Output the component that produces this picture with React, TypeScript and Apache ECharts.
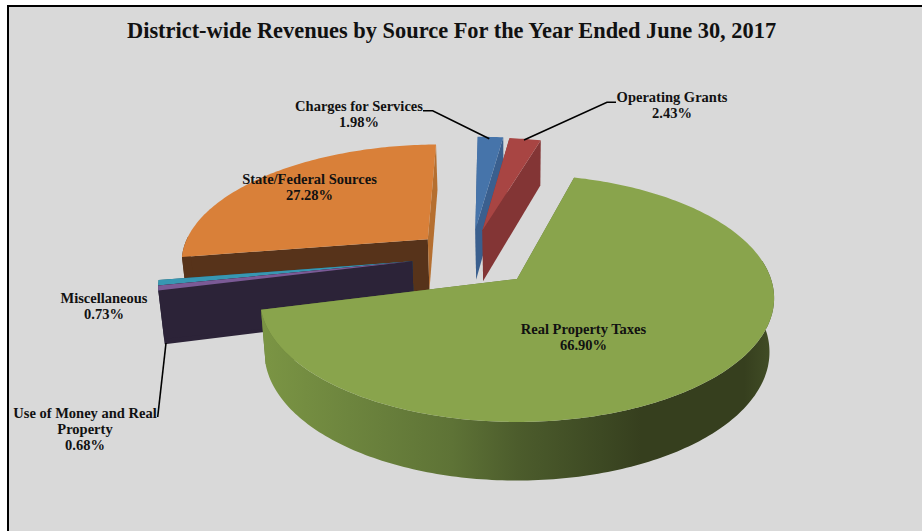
import React, { useEffect, useRef } from "react";
import * as echarts from "echarts";

const titleText = "District-wide Revenues by Source For the Year Ended June 30, 2017";
const sliceNames = [
  "Real Property Taxes",
  "Use of Money and Real Property",
  "Miscellaneous",
  "State/Federal Sources",
  "Charges for Services",
  "Operating Grants",
];
const sliceValues = [66.9, 0.68, 0.73, 27.28, 1.98, 2.43];

// Projection of the pie plane (perspective ellipse)
const CX = 517, CY = 279, A = 254, B = 120.8, K = 0.155, SHRINK = 0.982;
const DEPTH = 53, DEPTH_SLOPE = 36;
const START_ANGLE = 15;
const WIDTH = 922, HEIGHT = 531;

type Look = {
  top: string; wall: any; startFace: string; endFace: string;
  ox: number; oy: number; label: [number, number]; leader?: number[][]; lines?: string[];
};

const greenWall = {
  type: "linear", x: 262, y: 0, x2: 775, y2: 0, global: true,
  colorStops: [
    { offset: 0, color: "#7b9544" },
    { offset: 0.17, color: "#6d853e" },
    { offset: 0.37, color: "#5e7336" },
    { offset: 0.5, color: "#4c5c2c" },
    { offset: 0.66, color: "#3d4923" },
    { offset: 0.74, color: "#363f1e" },
    { offset: 0.94, color: "#363f1e" },
    { offset: 1, color: "#434f27" },
  ],
};

const looks: Record<string, Look> = {
  "Real Property Taxes": {
    top: "#89a44c", wall: greenWall, startFace: "#5e7336", endFace: "#5e7336",
    ox: 0, oy: 0, label: [583.5, 337],
  },
  "Use of Money and Real Property": {
    top: "#7b5a96", wall: "#2c2338", startFace: "#2c2338", endFace: "#2c2338",
    ox: -0.422, oy: 0.15, label: [85, 429],
    lines: ["Use of Money and Real", "Property"],
    leader: [[157.7, 417], [166, 343]],
  },
  Miscellaneous: {
    top: "#3797b2", wall: "#1f5564", startFace: "#1f5564", endFace: "#1f5564",
    ox: -0.422, oy: 0.15, label: [104, 306],
  },
  "State/Federal Sources": {
    top: "#d98039", wall: "#57331a", startFace: "#57331a", endFace: "#b56f30",
    ox: -0.37, oy: 0.346, label: [309.5, 187],
  },
  "Charges for Services": {
    top: "#4674aa", wall: "#3a5f8e", startFace: "#3a5f8e", endFace: "#3a5f8e",
    ox: -0.175, oy: 0.44, label: [359, 114],
    leader: [[423, 110.7], [432.7, 110.7], [489.3, 138.7]],
  },
  "Operating Grants": {
    top: "#a84543", wall: "#833535", startFace: "#833535", endFace: "#833535",
    ox: -0.145, oy: 0.43, label: [672, 105],
    leader: [[616, 102.3], [607, 102.3], [524, 140]],
  },
};

const paintOrder = [
  "State/Federal Sources",
  "Miscellaneous",
  "Use of Money and Real Property",
  "Charges for Services",
  "Operating Grants",
  "Real Property Taxes",
];

const total = sliceValues.reduce((s, v) => s + v, 0);

function sliceAngles(name: string): [number, number] {
  const idx = sliceNames.indexOf(name);
  let acc = START_ANGLE;
  for (let i = 0; i < idx; i++) acc += (sliceValues[i] / total) * 360;
  return [acc, acc + (sliceValues[idx] / total) * 360];
}

function topPoint(X: number, Y: number): [number, number, number] {
  const w = 1 + K * Y;
  return [CX + (A * X) / w, CY - (B * Y) / w, w];
}
function lowPoint(X: number, Y: number): [number, number] {
  const [x, y, w] = topPoint(X, Y);
  return [CX + (x - CX) * SHRINK, y + DEPTH - DEPTH_SLOPE * (w - 1)];
}

function renderSlice(params: any, api: any) {
  const name = paintOrder[params.dataIndex];
  const look = looks[name];
  const [a0, a1] = sliceAngles(name);
  const rim: [number, number][] = [];
  const nearRim: [number, number][] = [];
  const steps = Math.max(2, Math.ceil(a1 - a0));
  for (let i = 0; i <= steps; i++) {
    const deg = a0 + ((a1 - a0) * i) / steps;
    const t = (deg * Math.PI) / 180;
    const p: [number, number] = [look.ox + Math.sin(t), look.oy + Math.cos(t)];
    rim.push(p);
    const d = deg % 360;
    if (d >= 80 && d <= 272) nearRim.push(p);
  }
  const apex: [number, number] = [look.ox, look.oy];
  const T = (p: [number, number]) => {
    const q = topPoint(p[0], p[1]);
    return [q[0], q[1]];
  };
  const L = (p: [number, number]) => lowPoint(p[0], p[1]);
  const poly = (points: number[][], fill: any) => ({
    type: "polygon",
    shape: { points },
    style: { fill },
  });
  const first = rim[0];
  const last = rim[rim.length - 1];
  const children: any[] = [
    poly([T(apex), T(first), L(first), L(apex)], look.startFace),
    poly([T(apex), T(last), L(last), L(apex)], look.endFace),
  ];
  if (nearRim.length > 1) {
    children.push(poly([...nearRim.map(T), ...nearRim.slice().reverse().map(L)], look.wall));
  }
  children.push(poly([T(apex), ...rim.map(T)], look.top));
  return { type: "group", children };
}

function renderLabel(params: any, api: any) {
  const name = sliceNames[params.dataIndex];
  const look = looks[name];
  const pct = `${sliceValues[params.dataIndex].toFixed(2)}%`;
  const text = [...(look.lines ?? [name]), pct].join("\n");
  const children: any[] = [
    {
      type: "text",
      style: {
        text,
        x: look.label[0],
        y: look.label[1],
        align: "center",
        verticalAlign: "middle",
        fill: "#111111",
        font: "bold 14.5px 'Liberation Serif'",
        lineHeight: 16,
      },
    },
  ];
  if (look.leader) {
    children.unshift({
      type: "polyline",
      shape: { points: look.leader },
      style: { stroke: "#000000", lineWidth: 1.6, fill: "none" },
    });
  }
  return { type: "group", children };
}

export default function App() {
  const ref = useRef<HTMLDivElement>(null);
  useEffect(() => {
    const chart = echarts.init(ref.current!, undefined, { renderer: "svg" });
    chart.setOption({
      animation: false,
      backgroundColor: "#ffffff",
      title: {
        text: titleText,
        left: 127,
        top: 19.5,
        padding: 0,
        textStyle: {
          fontFamily: "'Liberation Serif'",
          fontWeight: "bold",
          fontSize: 22.4,
          color: "#111111",
        },
      },
      graphic: [
        {
          type: "rect",
          silent: true,
          shape: { x: 8, y: 6, width: 1000, height: 1000 },
          style: { fill: "#d9d9d9", stroke: "#000000", lineWidth: 2 },
        },
      ],
      series: [
        {
          type: "custom",
          coordinateSystem: "none",
          z: 2,
          silent: true,
          renderItem: renderSlice,
          data: paintOrder.map((n) => ({ name: n, value: sliceValues[sliceNames.indexOf(n)] })),
        },
        {
          type: "custom",
          coordinateSystem: "none",
          z: 3,
          silent: true,
          renderItem: renderLabel,
          data: sliceNames.map((n, i) => ({ name: n, value: sliceValues[i] })),
        },
      ],
    });
    return () => chart.dispose();
  }, []);
  return (
    <div
      ref={ref}
      style={{ position: "fixed", left: 0, top: 0, width: WIDTH, height: HEIGHT }}
    />
  );
}
